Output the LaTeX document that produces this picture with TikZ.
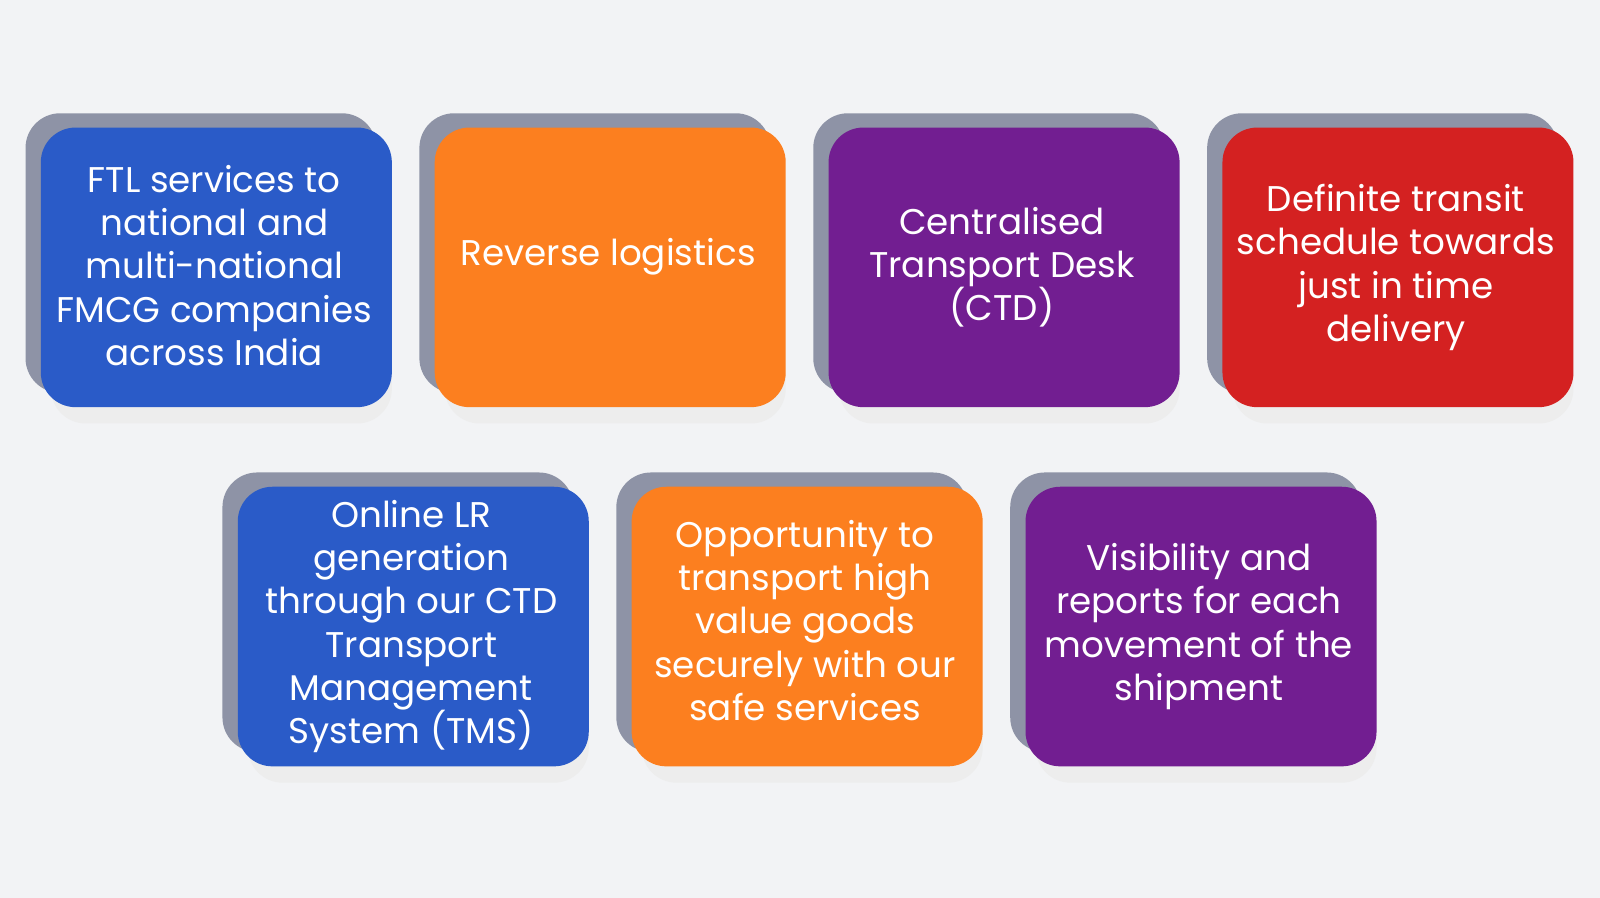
\documentclass[tikz,border=0pt]{standalone}
\usepackage{fontspec}
\setmainfont{Poppins}
\definecolor{bg}{HTML}{F2F3F5}
\definecolor{cblue}{HTML}{2A5BC8}
\definecolor{corange}{HTML}{FC7F1F}
\definecolor{cpurple}{HTML}{721E91}
\definecolor{cred}{HTML}{D42121}
\definecolor{cgray}{HTML}{8E93A6}
\tikzset{
 card/.style={rounded corners=17pt,minimum width=172pt,minimum height=137pt,align=center,text=white,font=\fontsize{17.5pt}{21.25pt}\selectfont},
 back/.style={fill=cgray,rounded corners=17pt},
}
\begin{document}
\begin{tikzpicture}[x=0.5pt,y=-0.5pt]
\fill[bg] (0,0) rectangle (1568,880);
\useasboundingbox (0,0) rectangle (1568,880);
\foreach \x/\y/\c/\n/\t/\d in {
 40/125/cblue/a/{FTL services to\\national and\\multi-national\\FMCG companies\\across India}/-2,
 426/125/corange/b/{Reverse logistics}/-10,
 812/125/cpurple/c/{Centralised\\Transport Desk\\(CTD)}/0,
 1198/125/cred/d/{Definite transit\\schedule towards\\just in time\\delivery}/0,
 233/477/cblue/e/{Online LR\\generation\\through our CTD\\Transport\\Management\\System (TMS)}/0,
 619/477/corange/f/{Opportunity to\\transport high\\value goods\\securely with our\\safe services}/-6,
 1005/477/cpurple/g/{Visibility and\\reports for each\\movement of the\\shipment}/0}{
 \fill[black!7,rounded corners=17pt] (\x+10,\y+20) rectangle (\x+344,\y+290);
 \fill[back] (\x-15,\y-14) rectangle (\x+329,\y+260);
 \node[card,fill=\c] (\n) at (\x+172,\y+137) {};
 \node[card,minimum width=0pt,minimum height=0pt] (\n t) at (\x+170,\y+137+\d) {\t};
}
\end{tikzpicture}
\end{document}
